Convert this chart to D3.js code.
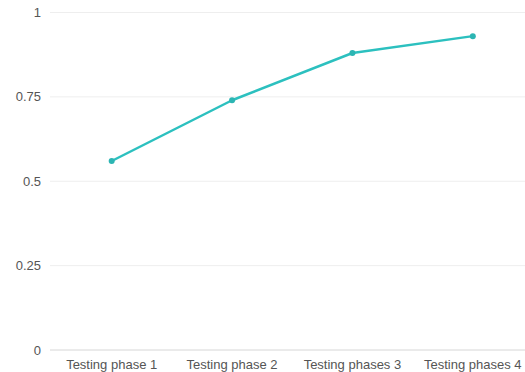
<!DOCTYPE html>
<html><head><meta charset="utf-8">
<script src="https://cdn.jsdelivr.net/npm/d3@7"></script>
<style>body{margin:0;background:#fff;}svg{display:block;font-family:"Liberation Sans",Arial,sans-serif;}</style>
</head><body>
<svg id="c" width="525" height="372"></svg>
<script>
const categories = ["Testing phase 1","Testing phase 2","Testing phases 3","Testing phases 4"];
const values = [0.56, 0.74, 0.88, 0.93];
const yTicks = [0, 0.25, 0.5, 0.75, 1];
const yTickLabels = ["0","0.25","0.5","0.75","1"];

(function(){
const svg = d3.select("#c");
const mLeft = 51.5, mRight = 533, mTop = 12.5, mBottom = 350;
const x = d3.scalePoint().domain(categories).range([mLeft, mRight]).padding(0.5);
const y = d3.scaleLinear().domain([0,1]).range([mBottom, mTop]);

svg.append("g").selectAll("line").data(yTicks).join("line")
  .attr("x1", 50).attr("x2", 525)
  .attr("y1", d => y(d)).attr("y2", d => y(d))
  .attr("stroke", d => d === 0 ? "#d6d6d6" : "#eeeeee")
  .attr("stroke-width", 1);

svg.append("g").selectAll("text").data(yTicks).join("text")
  .attr("x", 41).attr("y", d => y(d)).attr("dy", "0.35em")
  .attr("text-anchor", "end").attr("font-size", 13).attr("fill", "#555")
  .text((d,i) => yTickLabels[i]);

svg.append("g").selectAll("text").data(categories).join("text")
  .attr("x", d => x(d)).attr("y", 368.5)
  .attr("text-anchor", "middle").attr("font-size", 13).attr("fill", "#555")
  .text(d => d);

const data = categories.map((c,i) => ({c, v: values[i]}));
const line = d3.line().x(d => x(d.c)).y(d => y(d.v));
svg.append("path").datum(data).attr("d", line)
  .attr("fill", "none").attr("stroke", "#2cc0bf").attr("stroke-width", 2.5)
  .attr("stroke-linejoin", "round");
svg.append("g").selectAll("circle").data(data).join("circle")
  .attr("cx", d => x(d.c)).attr("cy", d => y(d.v)).attr("r", 3)
  .attr("fill", "#2cb5b3");
})();
</script>
</body></html>
